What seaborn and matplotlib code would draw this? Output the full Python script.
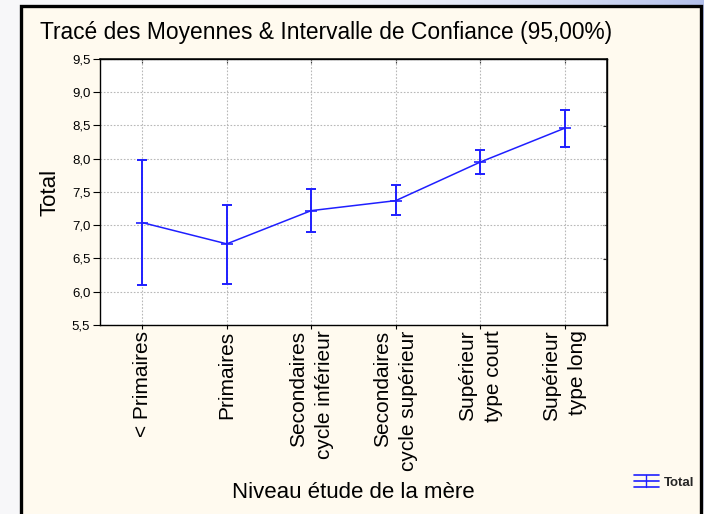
import numpy as np
import seaborn as sns
import matplotlib.pyplot as plt
import matplotlib.patches as mpatches
from matplotlib.lines import Line2D
from matplotlib.ticker import FuncFormatter, MultipleLocator
from matplotlib.legend_handler import HandlerBase

sns.set_theme(style="white")
plt.rcParams['font.family'] = ['Liberation Sans', 'DejaVu Sans']

# niveaux d'etude et moyennes
niveaux = ['< Primaires', 'Primaires', 'Secondaires\ncycle inférieur',
           'Secondaires\ncycle supérieur', 'Supérieur\ntype court', 'Supérieur\ntype long']
moyennes = [7.04, 6.72, 7.22, 7.37, 7.95, 8.46]
ic_bas = [6.10, 6.12, 6.90, 7.15, 7.77, 8.18]
ic_haut = [7.98, 7.31, 7.55, 7.61, 8.13, 8.74]

W, H = 704, 514
bleu = '#1f1fff'


class HandlerIC(HandlerBase):
    # symbole de legende facon Statistica : 3 traits horizontaux + barre verticale
    def create_artists(self, legend, orig_handle, xdescent, ydescent, width, height,
                       fontsize, trans):
        h = height * 1.0
        y0 = -ydescent + height / 2
        arts = []
        for dy in (-h / 2, 0, h / 2):
            arts.append(Line2D([-xdescent, -xdescent + width], [y0 + dy, y0 + dy],
                               color=bleu, lw=1.2, transform=trans))
        xm = -xdescent + width / 2
        arts.append(Line2D([xm, xm], [y0 - h / 2, y0 + h / 2], color=bleu, lw=1.0,
                           transform=trans))
        return arts


fig = plt.figure(figsize=(W / 100, H / 100), dpi=100)
fig.patch.set_facecolor('white')

# fond : degrade bleute en haut a droite
bg = fig.add_axes([0, 0, 1, 1], zorder=-10)
gx = np.linspace(0, 1, 256) ** 3
gy = np.linspace(1, 0, 128) ** 0.3
g = np.outer(gy, gx)
c0 = np.array([0.97, 0.97, 0.98])
c1 = np.array([0.70, 0.75, 0.92])
img = c0 + (c1 - c0) * g[..., None]
bg.imshow(img, aspect='auto', extent=[0, 1, 0, 1])
bg.set_axis_off()

panel = mpatches.Rectangle((21 / W, -0.02), (701 - 21) / W, (514 - 6) / H + 0.02,
                           transform=fig.transFigure, facecolor='#fffaef',
                           edgecolor='black', linewidth=2.4, zorder=-5)
fig.add_artist(panel)

ax = fig.add_axes([100 / W, 1 - 325 / H, 507 / W, 266 / H])
ax.set_facecolor('white')

sns.lineplot(x=niveaux, y=moyennes, sort=False, color=bleu, linewidth=1.1, ax=ax)
ln = ax.lines[0]
err = [np.array(moyennes) - np.array(ic_bas), np.array(ic_haut) - np.array(moyennes)]
ax.errorbar(niveaux, moyennes, yerr=err, fmt='none', ecolor=bleu,
            elinewidth=1.4, capsize=3.5, capthick=1.4)
# petit trait horizontal a la moyenne
ax.plot(niveaux, moyennes, linestyle='none', marker='_', markersize=8,
        markeredgewidth=1.2, color=bleu)

ax.set_xlim(-0.5, 5.5)
ax.set_ylim(5.5, 9.5)
ax.yaxis.set_major_locator(MultipleLocator(0.5))
ax.yaxis.set_major_formatter(FuncFormatter(lambda v, p: f"{v:.1f}".replace('.', ',')))
ax.grid(True, color='#b8b8b8', linestyle=(0, (1.5, 1.5)), linewidth=0.8)
ax.set_xlabel('')
ax.set_ylabel('')

for s in ax.spines.values():
    s.set_color('black')
    s.set_linewidth(1.0)

ax.tick_params(axis='y', left=True, direction='out', length=5, width=0.8,
               pad=2, labelsize=9.5, colors='black')
ax.tick_params(axis='x', bottom=True, direction='out', length=3, width=0.8,
               pad=1, labelsize=15, colors='black')
for lab in ax.get_xticklabels():
    lab.set_rotation(90)
    lab.set_ha('center')
    lab.set_va('top')
    lab.set_multialignment('right')
    lab.set_linespacing(1.45)

top = ax.secondary_xaxis('top')
top.set_xticks(range(len(niveaux)))
top.tick_params(direction='in', length=3, labeltop=False, width=0.8)
right = ax.secondary_yaxis('right')
right.yaxis.set_major_locator(MultipleLocator(0.5))
right.tick_params(direction='in', length=3, labelright=False, width=0.8)

fig.text(40 / W, 1 - 33 / H, 'Tracé des Moyennes & Intervalle de Confiance (95,00%)',
         ha='left', va='center', fontsize=16.4, color='black')
fig.text(50 / W, 1 - 192 / H, 'Total', rotation=90, ha='center', va='center',
         fontsize=16, color='black')
fig.text(353.5 / W, 1 - 492 / H, 'Niveau étude de la mère', ha='center', va='center',
         fontsize=16, color='black')

fig.legend([ln], ['Total'], handler_map={Line2D: HandlerIC()},
           loc='center left', bbox_to_anchor=(622 / W, 1 - 482 / H), frameon=False,
           handlelength=1.9, handleheight=1.0, handletextpad=0.4,
           prop={'weight': 'bold', 'size': 9.5})

fig.savefig('out.png', dpi=100)
